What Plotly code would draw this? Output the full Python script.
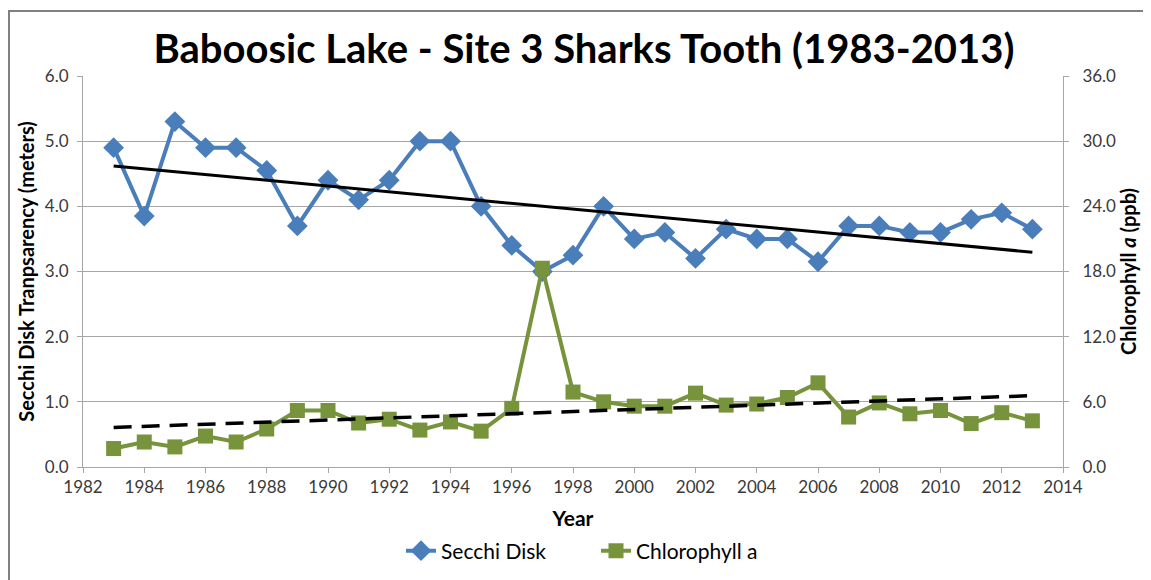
import numpy as np
import plotly.graph_objects as go

years = list(range(1983, 2014))
secchi = [4.9, 3.85, 5.3, 4.9, 4.9, 4.55, 3.7, 4.4, 4.1, 4.4, 5.0, 5.0, 4.0, 3.4, 3.0,
          3.25, 4.0, 3.5, 3.6, 3.2, 3.65, 3.5, 3.5, 3.15, 3.7, 3.7, 3.6, 3.6, 3.8, 3.9, 3.65]
chlorophyll = [1.7, 2.3, 1.85, 2.85, 2.3, 3.5, 5.2, 5.2, 4.05, 4.4, 3.4, 4.15, 3.3, 5.4, 18.3,
               6.9, 6.0, 5.6, 5.6, 6.8, 5.7, 5.8, 6.4, 7.75, 4.6, 5.9, 4.9, 5.2, 4.0, 5.0, 4.25]

title_text = "Baboosic Lake - Site 3 Sharks Tooth (1983-2013)"
blue = "#4a7ebb"
green = "#77933c"

yr = np.array(years, dtype=float)
s_fit = np.polyval(np.polyfit(yr, secchi, 1), yr)
c_fit = np.polyval(np.polyfit(yr, chlorophyll, 1), yr)

fig = go.Figure()
fig.add_trace(go.Scatter(x=years, y=secchi, name="Secchi Disk", mode="lines+markers",
                         line=dict(color=blue, width=4),
                         marker=dict(symbol="diamond", size=16, color=blue)))
fig.add_trace(go.Scatter(x=years, y=chlorophyll, name="Chlorophyll a", mode="lines+markers",
                         yaxis="y2", line=dict(color=green, width=4),
                         marker=dict(symbol="square", size=15, color=green)))
fig.add_trace(go.Scatter(x=years, y=s_fit, mode="lines", showlegend=False,
                         line=dict(color="black", width=3), hoverinfo="skip"))
fig.add_trace(go.Scatter(x=years, y=c_fit, mode="lines", showlegend=False, yaxis="y2",
                         line=dict(color="black", width=3.5, dash="18px,10px"), hoverinfo="skip"))

FONT = "Lato, sans-serif"
tickfont = dict(family=FONT, size=17, color="#3a3a3a")
W, H = 1143, 572
L, R, T, B = 75, 88, 68, 113
PW, PH = W - L - R, H - T - B
fig.update_layout(
    width=W, height=H,
    margin=dict(l=L, r=R, t=T, b=B, autoexpand=False),
    paper_bgcolor="white", plot_bgcolor="white",
    font=dict(family=FONT, color="black"),
    title=dict(text="<b>" + title_text + "</b>", x=576 / W, xanchor="center",
               y=1 - 41 / H, yanchor="middle",
               font=dict(family=FONT, size=40, color="black")),
    xaxis=dict(range=[1982, 2014], tickmode="linear", tick0=1982, dtick=2, automargin=False,
               showgrid=False, showline=True, linecolor="#a6a6a6", linewidth=1,
               ticks="outside", ticklen=5, tickcolor="#a6a6a6", tickfont=tickfont,
               title=dict(text="<b>Year</b>", font=dict(size=21, family=FONT), standoff=14),
               zeroline=False),
    yaxis=dict(range=[0, 6], tickmode="linear", tick0=0, dtick=1, tickformat=".1f",
               showgrid=True, gridcolor="#a6a6a6", gridwidth=1, automargin=False,
               showline=True, linecolor="#a6a6a6", ticks="outside", ticklen=5,
               tickcolor="#a6a6a6", tickfont=tickfont, zeroline=False, ticklabelstandoff=5,
               title=dict(text="<b>Secchi Disk Tranpsarency (meters)</b>",
                          font=dict(size=20, family=FONT), standoff=4)),
    yaxis2=dict(range=[0, 36], tickmode="linear", tick0=0, dtick=6, tickformat=".1f",
                overlaying="y", side="right", showgrid=False, automargin=False,
                showline=True, linecolor="#a6a6a6", ticks="outside", ticklen=5,
                tickcolor="#a6a6a6", tickfont=tickfont, zeroline=False, ticklabelstandoff=10,
                title=dict(text="<b>Chlorophyll <i>a</i> (ppb)</b>",
                           font=dict(size=20, family=FONT), standoff=6)),
    legend=dict(orientation="h", x=(596 - 8 - L) / PW, xanchor="center",
                y=-(551 - 467) / PH, yanchor="middle",
                font=dict(family=FONT, size=21, color="black"),
                entrywidth=150, entrywidthmode="pixels", tracegroupgap=0),
    shapes=[dict(type="rect", xref="paper", yref="paper",
                 x0=-(L - 1) / PW, x1=1.2, y0=-0.5, y1=1 + (T - 3) / PH,
                 line=dict(color="#808080", width=2), fillcolor="rgba(0,0,0,0)", layer="below")],
)

fig.write_html("out.html")
